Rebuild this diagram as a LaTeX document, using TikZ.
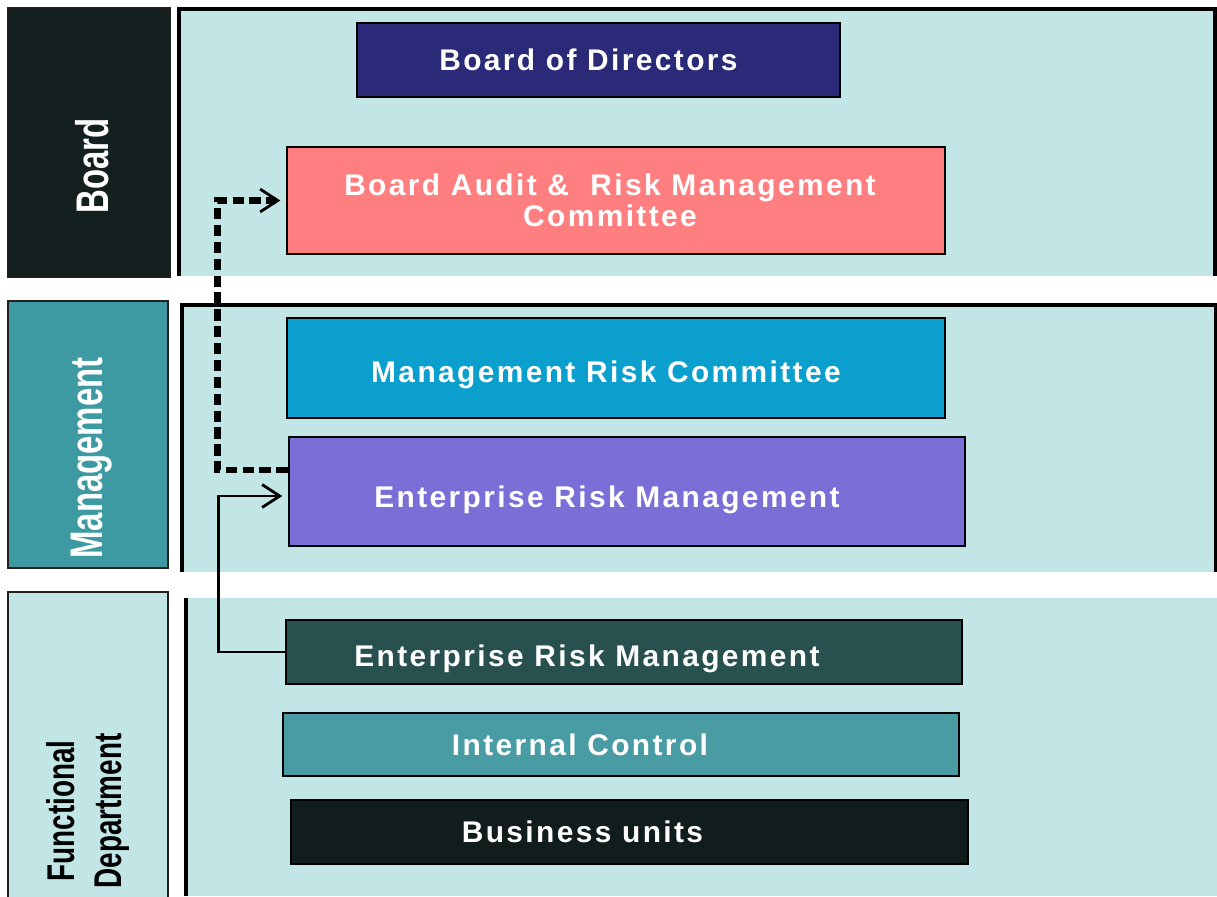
\documentclass[tikz,border=0pt]{standalone}
\usepackage{fontspec}
\newfontfamily\boxfont{Liberation Sans}[LetterSpace=8]
\newfontfamily\sidefont{Liberation Sans}[FakeStretch=0.72]
\usetikzlibrary{arrows.meta}

\definecolor{panelcol}{HTML}{C2E6E6}
\definecolor{edgecol}{HTML}{231F1A}
\definecolor{boardcol}{HTML}{13201F}
\definecolor{mgmtcol}{HTML}{3E9AA2}
\definecolor{bodcol}{HTML}{2A2A78}
\definecolor{auditcol}{HTML}{FF7F80}
\definecolor{mrccol}{HTML}{0B9FCD}
\definecolor{ermcol}{HTML}{7A6FD6}
\definecolor{ermdarkcol}{HTML}{28504F}
\definecolor{iccol}{HTML}{4A9CA4}
\definecolor{bucol}{HTML}{111C1C}

\begin{document}
\begin{tikzpicture}[x=0.01cm,y=-0.01cm,>={Straight Barb[length=5pt,width=6.5pt,line width=0.8pt]}]
    \tikzstyle{box}=[rectangle,draw=black,line width=0.7pt,inner sep=0pt]
    \tikzstyle{boxtext}=[text=white,align=center,font=\boxfont\bfseries\fontsize{8.5}{8.8}\selectfont]
    \tikzstyle{sidetext}=[rotate=90,align=center,font=\sidefont\bfseries\fontsize{13}{15}\selectfont]
    \tikzstyle{sidebox}=[draw=edgecol,line width=0.8pt]

    \useasboundingbox (0,0) rectangle (1217,896);

    % the three bands
    \fill[panelcol] (179,8) rectangle (1215,276);
    \draw[line width=0.9pt] (179,276) -- (179,9) -- (1215,9) -- (1215,276);
    \fill[panelcol] (182,305) rectangle (1217,572);
    \draw[line width=0.9pt] (182,572) -- (182,305) -- (1216,305) -- (1216,572);
    \fill[panelcol] (185,598) rectangle (1217,896);
    \draw[line width=0.9pt] (186,598) -- (186,896);

    % level labels on the left
    \draw[sidebox,fill=boardcol] (8,8) rectangle (170,277);
    \draw[sidebox,fill=mgmtcol] (8,301) rectangle (168,568);
    \draw[sidebox,fill=panelcol] (8,592) rectangle (168,910);
    \node[sidetext,text=white] (board-txt) at (92,166) {Board};
    \node[sidetext,text=white] (mgmt-txt) at (92,458) {Management};
    \node[sidetext,font=\sidefont\bfseries\fontsize{11}{13.4}\selectfont] (func-txt) at (88,811) {Functional\\Department};

    % committees and units
    \node[box,fill=bodcol,minimum width=4.83cm,minimum height=0.74cm,
          label={[boxtext,xshift=-0.1cm]center:Board of Directors}] (bod) at (598.5,60) {};
    \node[box,fill=auditcol,minimum width=6.58cm,minimum height=1.07cm,
          label={[boxtext,xshift=-0.06cm]center:Board Audit \&\ \ Risk Management\\Committee}] (audit) at (616,200.5) {};
    \node[box,fill=mrccol,minimum width=6.58cm,minimum height=1.0cm,
          label={[boxtext,xshift=-0.1cm,yshift=-0.07cm]center:Management Risk Committee}] (mrc) at (616,368) {};
    \node[box,fill=ermcol,minimum width=6.76cm,minimum height=1.09cm,
          label={[boxtext,xshift=-0.2cm,yshift=-0.08cm]center:Enterprise Risk Management}] (erm-1) at (627,491.5) {};
    \node[box,fill=ermdarkcol,minimum width=6.76cm,minimum height=0.64cm,
          label={[boxtext,xshift=-0.37cm,yshift=-0.07cm]center:Enterprise Risk Management}] (erm-2) at (624,652) {};
    \node[box,fill=iccol,minimum width=6.76cm,minimum height=0.63cm,
          label={[boxtext,xshift=-0.41cm]center:Internal Control}] (ic) at (621,744.5) {};
    \node[box,fill=bucol,minimum width=6.77cm,minimum height=0.64cm,
          label={[boxtext,xshift=-0.47cm]center:Business units}] (bu) at (629.5,832) {};

    % reporting lines
    \draw[->,shorten >=1.5pt,line width=1.8pt,dash pattern=on 3.2pt off 1.6pt]
        ([yshift=0.215cm]erm-1.west) -- ++(-70,0) |- (audit.west);
    \draw[->,shorten >=1.5pt,line width=0.7pt]
        (erm-2.west) -- ++(-66,0) |- ([yshift=-0.045cm]erm-1.west);
\end{tikzpicture}
\end{document}
